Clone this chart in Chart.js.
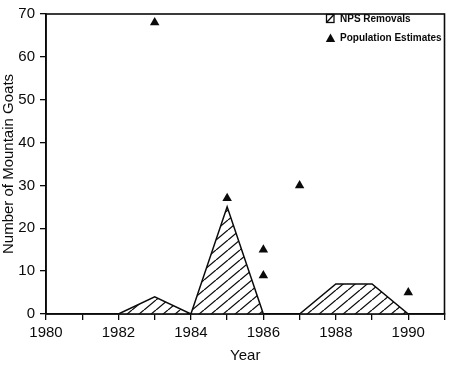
<!DOCTYPE html>
<html>
<head>
<meta charset="utf-8">
<script src="https://cdn.jsdelivr.net/npm/chart.js@4/dist/chart.umd.min.js"></script>
<style>
  html, body { margin: 0; padding: 0; background: #fff; }
  #wrap { width: 450px; height: 365px; position: relative; }
</style>
</head>
<body>
<div id="wrap"><canvas id="c" width="450" height="365"></canvas></div>
<script>
// ---- data ----
const removalYears = [1982, 1983, 1984, 1985, 1986, 1987, 1988, 1989, 1990];
const removalValues = [0, 4, 0, 25, 0, 0, 7, 7, 0];
const estimateYears = [1983, 1985, 1986, 1986, 1987, 1990];
const estimateValues = [68, 27, 15, 9, 30, 5];
const xTickLabels = [1980, 1982, 1984, 1986, 1988, 1990];
const yTickValues = [0, 10, 20, 30, 40, 50, 60, 70];
const seriesLabels = ['NPS Removals', 'Population Estimates'];

const FONT = "'Liberation Sans', Arial, Helvetica, sans-serif";
const INK = '#0a0a0a';

const hatchCanvas = (function () {
  const w = 12, h = 10;
  const c = document.createElement('canvas');
  c.width = w; c.height = h;
  const g = c.getContext('2d');
  g.fillStyle = '#fff';
  g.fillRect(0, 0, w, h);
  g.strokeStyle = INK;
  g.lineWidth = 1.25;
  for (let k = -1; k <= 1; k++) {
    g.beginPath();
    g.moveTo(k * w, h);
    g.lineTo(k * w + w, 0);
    g.stroke();
  }
  return c;
})();
const ctx = document.getElementById('c').getContext('2d');
const hatch = ctx.createPattern(hatchCanvas, 'repeat');

const framePlugin = {
  id: 'frame',
  afterDraw(chart) {
    const a = chart.chartArea, g = chart.ctx;
    g.save();
    g.strokeStyle = INK;
    g.lineWidth = 1.6;
    g.strokeRect(a.left, a.top, a.right - a.left, a.bottom - a.top);
    g.restore();
  }
};

const legendPlugin = {
  id: 'cornerLegend',
  afterDraw(chart) {
    const g = chart.ctx;
    g.save();
    g.fillStyle = '#fff';
    g.fillRect(326.5, 14.5, 7.5, 8);
    g.strokeStyle = INK;
    g.lineWidth = 1.3;
    g.strokeRect(326.5, 14.5, 7.5, 8);
    g.beginPath();
    g.moveTo(326.5, 22.5); g.lineTo(334, 14.5); g.stroke();
    g.fillStyle = INK;
    g.beginPath();
    g.moveTo(330.5, 33.5); g.lineTo(335.2, 42); g.lineTo(325.8, 42); g.closePath();
    g.fill();
    g.font = 'bold 10px ' + FONT;
    g.textBaseline = 'middle';
    g.textAlign = 'left';
    g.fillText(seriesLabels[0], 340, 19);
    g.fillText(seriesLabels[1], 340, 38.5);
    g.restore();
  }
};

new Chart(ctx, {
  type: 'scatter',
  data: {
    datasets: [
      {
        type: 'line',
        label: seriesLabels[0],
        data: removalYears.map((x, i) => ({ x: x, y: removalValues[i] })),
        borderColor: INK,
        borderWidth: 1.5,
        backgroundColor: hatch,
        fill: 'origin',
        tension: 0,
        pointRadius: 0
      },
      {
        type: 'scatter',
        label: seriesLabels[1],
        data: estimateYears.map((x, i) => ({ x: x, y: estimateValues[i] })),
        pointStyle: 'triangle',
        pointRadius: 5.5,
        backgroundColor: INK,
        borderColor: INK,
        borderWidth: 0
      }
    ]
  },
  plugins: [framePlugin, legendPlugin],
  options: {
    responsive: false,
    animation: false,
    devicePixelRatio: 1,
    layout: { padding: { top: 8, right: 1, left: 0, bottom: 0 } },
    plugins: { legend: { display: false }, tooltip: { enabled: false } },
    scales: {
      x: {
        type: 'linear',
        min: 1980,
        max: 1991,
        afterFit(s) { s.height = 51; },
        border: { display: true, color: INK, width: 1.6 },
        grid: { display: true, drawOnChartArea: false, drawTicks: true, tickLength: 6, color: INK, lineWidth: 1.3 },
        ticks: {
          stepSize: 1,
          autoSkip: false,
          maxRotation: 0,
          padding: 4,
          color: INK,
          font: { family: FONT, size: 15 },
          callback: (v) => xTickLabels.includes(v) ? String(v) : ''
        },
        title: { display: true, text: 'Year', color: INK, font: { family: FONT, size: 15 }, padding: { top: 0, bottom: 0 } }
      },
      y: {
        type: 'linear',
        min: 0,
        max: 70,
        afterFit(s) { s.width = 46; },
        afterBuildTicks(s) { s.ticks = yTickValues.map(v => ({ value: v })); },
        border: { display: true, color: INK, width: 1.6 },
        grid: { display: true, drawOnChartArea: false, drawTicks: true, tickLength: 6, color: INK, lineWidth: 1.3 },
        ticks: {
          padding: 5,
          color: INK,
          font: { family: FONT, size: 15 }
        },
        title: { display: true, text: 'Number of Mountain Goats', color: INK, font: { family: FONT, size: 15 }, padding: { top: 0, bottom: 0 } }
      }
    }
  }
});
</script>
</body>
</html>
